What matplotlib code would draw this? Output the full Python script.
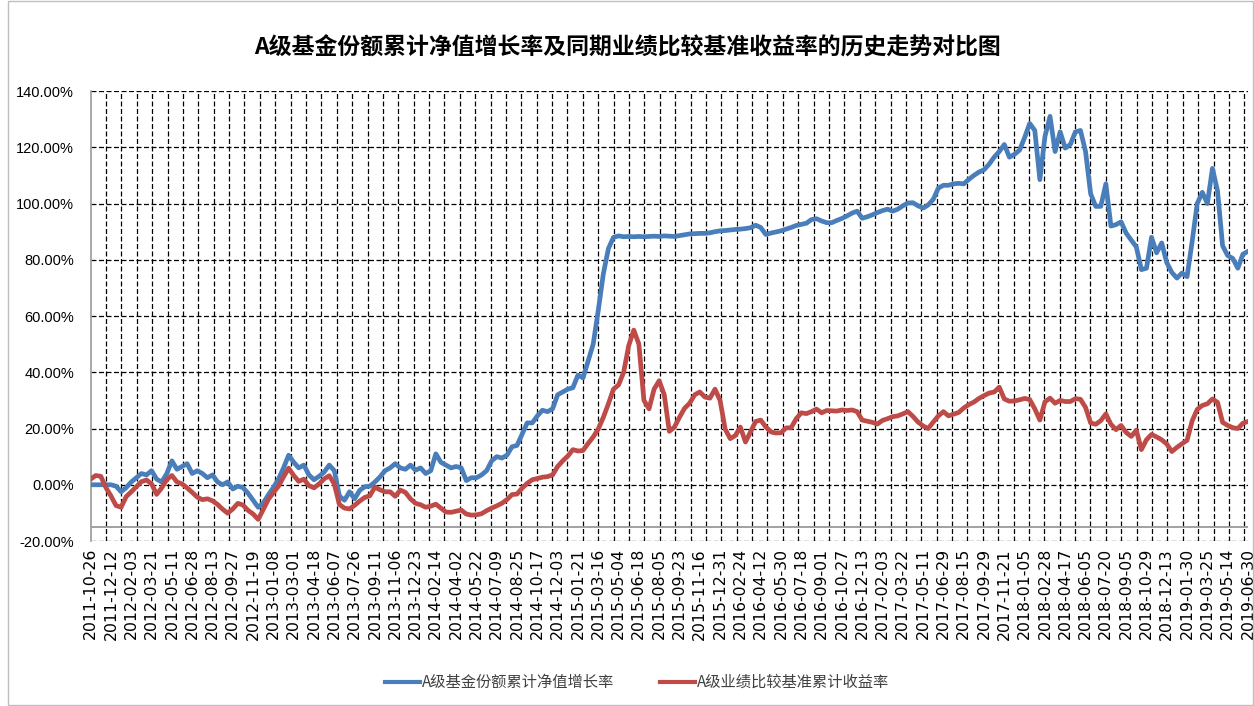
import matplotlib
matplotlib.use("Agg")
import matplotlib.pyplot as plt
from matplotlib.lines import Line2D
from matplotlib.patches import Rectangle
import numpy as np

plt.rcParams["font.family"] = ["Noto Sans CJK SC", "DejaVu Sans"]
plt.rcParams["axes.unicode_minus"] = False

title = "A级基金份额累计净值增长率及同期业绩比较基准收益率的历史走势对比图"
name_fund = "A级基金份额累计净值增长率"
name_bench = "A级业绩比较基准累计收益率"

# category labels (one every 33 trading days)
date_labels = [
    "2011-10-26", "2011-12-12", "2012-02-03", "2012-03-21", "2012-05-11", "2012-06-28",
    "2012-08-13", "2012-09-27", "2012-11-19", "2013-01-08", "2013-03-01", "2013-04-18",
    "2013-06-07", "2013-07-26", "2013-09-11", "2013-11-06", "2013-12-23", "2014-02-14",
    "2014-04-02", "2014-05-22", "2014-07-09", "2014-08-25", "2014-10-17", "2014-12-03",
    "2015-01-21", "2015-03-16", "2015-05-04", "2015-06-18", "2015-08-05", "2015-09-23",
    "2015-11-16", "2015-12-31", "2016-02-24", "2016-04-12", "2016-05-30", "2016-07-18",
    "2016-09-01", "2016-10-27", "2016-12-13", "2017-02-03", "2017-03-22", "2017-05-11",
    "2017-06-29", "2017-08-15", "2017-09-29", "2017-11-21", "2018-01-05", "2018-02-28",
    "2018-04-17", "2018-06-05", "2018-07-20", "2018-09-05", "2018-10-29", "2018-12-13",
    "2019-01-30", "2019-03-25", "2019-05-14", "2019-06-30",
]
label_step = 33
grid_step = 25

# fund cumulative NAV growth (%), 4 readings per label interval
fund = [
    0, 0, 0, 0, 0, -0.5, -2.5, -1, 1, 2.5, 4, 3.5, 5, 2, 1, 4,
    8.5, 5.5, 6.5, 7.5, 4, 5, 4, 2.5, 3.5, 1, 0, 1, -1.5, -0.5, -1, -3,
    -5.5, -8, -6.5, -3.6, -1, 2, 6, 10.5, 8, 6, 7, 3.5, 1.8, 3, 4.5, 7,
    5, -4, -5.5, -2.5, -5, -2, -0.7, -0.5, 1, 2.8, 5, 6, 7.5, 6, 5.5, 7,
    5.2, 6, 4, 5, 11, 8, 7, 6, 6.5, 6, 1.5, 2.5, 2.5, 3.5, 5, 8.5,
    10, 9.5, 10.5, 13.5, 14, 18, 22, 22, 24.5, 26.5, 26, 27, 32, 33, 34, 34.5,
    39, 38, 44, 50, 62, 75, 84, 88, 88.5, 88.2, 88.3, 88.2, 88.3, 88.2, 88.3, 88.4,
    88.3, 88.5, 88.4, 88.3, 88.6, 88.9, 89.2, 89.3, 89.4, 89.4, 89.6, 90, 90.3, 90.4, 90.6, 90.8,
    90.9, 91.1, 91.4, 92.3, 91.5, 89, 89.5, 89.9, 90.3, 90.9, 91.5, 92.2, 92.6, 93, 94.3, 94.6,
    93.8, 93.2, 93.2, 94, 94.7, 95.6, 96.6, 97.3, 94.8, 95.3, 96, 96.8, 97.5, 98, 97.3, 98,
    99.2, 100.2, 100.3, 99.2, 98.4, 99.5, 101.5, 105.5, 106.5, 106.5, 107, 107.2, 107, 108.6, 110, 111.2,
    112, 114, 116.5, 118.5, 121, 116.5, 117.5, 119, 123.5, 128.5, 126, 108.5, 123.8, 131, 118.5, 125.5,
    119.7, 121, 125.5, 126, 118.5, 103.5, 99, 99, 107, 92, 92.5, 93.5, 89.5, 87, 84.6, 76.5,
    77, 88, 82.5, 86, 79, 75.5, 73.5, 75.3, 74, 86.5, 100, 104, 100, 112.5, 104.5, 85,
    81.5, 80.5, 77, 82, 83,
]

# benchmark cumulative return (%), same sampling
bench = [
    2, 3.3, 3, -1, -4, -7.4, -8, -4.2, -2.5, -0.7, 1.1, 1.7, 0.3, -3.4, -1.1, 1.9,
    3.3, 1, 0.3, -1.1, -2.7, -4.4, -5.3, -5, -5.7, -7, -8.7, -10.1, -8.6, -6.6, -7.2, -9.1,
    -10.4, -12.3, -8.8, -5.2, -2.8, -0.5, 2.8, 5.9, 3.3, 1.2, 2, -0.3, -1.1, 0.3, 2.1, 3.2,
    0.3, -7, -8.3, -8.6, -7.3, -5.8, -4.5, -3.9, -0.8, -1.8, -2.5, -2.5, -4.1, -1.9, -2.7, -5,
    -6.6, -7.1, -8, -7.6, -6.9, -8.3, -9.7, -9.8, -9.4, -9, -10.4, -10.8, -10.7, -10.3, -9.2, -8.3,
    -7.5, -6.6, -5.3, -3.5, -3.3, -1.2, 0.5, 1.8, 2.2, 2.7, 2.9, 3.5, 6.5, 8.5, 10.2, 12.5,
    12, 12.2, 14.7, 17, 19.8, 24, 28.8, 34, 35.5, 40, 49.5, 55, 50, 30, 27, 34,
    37, 32, 19, 20.5, 24, 27.2, 29, 32, 33, 31.2, 30.8, 34, 30, 19.8, 16.4, 17.5,
    20.5, 15.2, 18.8, 22.5, 23, 20.6, 18.8, 18.4, 18.5, 20.2, 20.3, 23.5, 25.6, 25.3, 26, 26.9,
    25.6, 26.4, 26.3, 26.2, 26.6, 26.4, 26.6, 26, 23, 22.6, 22.2, 21.6, 22.9, 23.5, 24.2, 24.5,
    25.2, 26, 24.3, 22.3, 20.9, 20, 22.3, 24.5, 26, 24.5, 25.1, 25.7, 27.3, 28.5, 29.4, 30.7,
    31.7, 32.6, 33, 34.7, 30.5, 29.7, 29.8, 30.2, 30.7, 30.3, 27, 23, 29.5, 30.8, 29, 30,
    29.6, 29.6, 30.6, 30.4, 27.5, 22, 21.5, 22.8, 25.2, 21.5, 19.6, 21.1, 18.6, 17.2, 19.4, 12.5,
    16, 17.9, 17, 16, 14.5, 11.8, 13.3, 14.6, 15.8, 22.7, 26.8, 28.2, 28.8, 30.5, 29.3, 22.2,
    21.1, 20.3, 20, 21.9, 22.5,
]

yticks = [-20, 0, 20, 40, 60, 80, 100, 120, 140]

last = label_step * (len(date_labels) - 1)
x = np.linspace(0, last, len(fund))

fig = plt.figure(figsize=(12.54, 7.06), dpi=100)
fig.patches.append(Rectangle((0.006, 0.001), 0.993, 0.997, transform=fig.transFigure,
                             fill=False, edgecolor="#BFBFBF", linewidth=1.0))
ax = fig.add_axes([0.0723, 0.2337, 0.9229, 0.6373])

dash = (0, (4, 2))
for g in range(grid_step, last + 1, grid_step):
    ax.axvline(g, color="black", lw=0.9, ls=dash, zorder=1)
for t in yticks:
    ax.axhline(t, color="black", lw=0.9, ls=dash, zorder=1)
ax.axhline(-15, color="#9A9A9A", lw=1.3, zorder=1.5)

ax.plot(x, fund, color="#4A7EBB", lw=3.4, solid_joinstyle="round", zorder=3)
ax.plot(x, bench, color="#BE4B48", lw=3.4, solid_joinstyle="round", zorder=4)

ax.set_xlim(0, last)
ax.set_ylim(-20, 140)
ax.set_yticks(yticks)
ax.set_yticklabels([f"{t:.2f}%" for t in yticks], family="Liberation Sans", fontsize=10.5)
ax.set_xticks(range(0, last + 1, label_step))
ax.set_xticklabels(date_labels, rotation=90, family="DejaVu Sans", fontsize=11.3)
ax.tick_params(axis="y", length=0, pad=12)
ax.tick_params(axis="x", length=0, pad=5)

for s in ("top", "right", "bottom"):
    ax.spines[s].set_visible(False)
ax.spines["left"].set_color("#9A9A9A")
ax.spines["left"].set_linewidth(1.2)

fig.text(0.5, 0.932, title, ha="center", va="center", fontsize=16.5, fontweight="bold")

handles = [
    Line2D([], [], color="#4A7EBB", lw=3.0),
    Line2D([], [], color="#BE4B48", lw=3.0),
]
fig.legend(handles, [name_fund, name_bench], loc="center", bbox_to_anchor=(0.508, 0.033),
           ncol=2, frameon=False, fontsize=11, handlelength=2.3, handletextpad=0.1,
           columnspacing=3.0, labelcolor="#404040")

fig.savefig("out.png", dpi=100)
